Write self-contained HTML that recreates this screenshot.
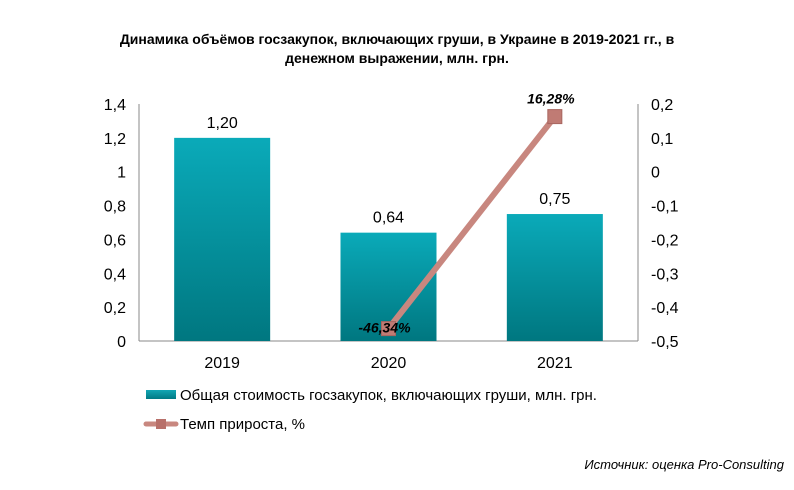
<!DOCTYPE html>
<html><head><meta charset="utf-8"><style>
body{margin:0;background:#fff;}
svg{display:block;font-family:"Liberation Sans",Arial,sans-serif;}
</style></head><body>
<svg id="c" width="794" height="490">
<defs>
<linearGradient id="bg" x1="0" y1="0" x2="0" y2="1"><stop offset="0" stop-color="#0aaab9"/><stop offset="1" stop-color="#007780"/></linearGradient>
<linearGradient id="lg" x1="0" y1="0" x2="0" y2="1"><stop offset="0" stop-color="#12a6b4"/><stop offset="1" stop-color="#007a84"/></linearGradient>
</defs>
<text x="397" y="44" text-anchor="middle" font-size="14" font-weight="bold">Динамика объёмов госзакупок, включающих груши, в Украине в 2019-2021 гг., в</text>
<text x="397" y="63" text-anchor="middle" font-size="14" font-weight="bold">денежном выражении, млн. грн.</text>
<g id="plot"></g>
<rect x="146" y="390" width="30" height="9" fill="url(#lg)"/>
<text x="180" y="400" font-size="15">Общая стоимость госзакупок, включающих груши, млн. грн.</text>
<line x1="146" y1="424" x2="176" y2="424" stroke="#c8877f" stroke-width="5" stroke-linecap="round"/>
<rect x="156" y="419" width="10" height="10" fill="#b8706a"/>
<text x="180" y="429" font-size="15">Темп прироста, %</text>
<text x="784" y="469" text-anchor="end" font-size="13" font-style="italic">Источник: оценка Pro-Consulting</text>
</svg>
<script>
const categories=["2019","2020","2021"];
const barValues=[1.20,0.64,0.75];
const barLabels=["1,20","0,64","0,75"];
const growthValues=[null,-0.4634,0.1628];
const growthLabels=[null,"-46,34%","16,28%"];
const leftTicks=[0,0.2,0.4,0.6,0.8,1,1.2,1.4];
const leftTickLabels=["0","0,2","0,4","0,6","0,8","1","1,2","1,4"];
const rightTicks=[-0.5,-0.4,-0.3,-0.2,-0.1,0,0.1,0.2];
const rightTickLabels=["-0,5","-0,4","-0,3","-0,2","-0,1","0","0,1","0,2"];
const NS="http://www.w3.org/2000/svg";
const g=document.getElementById('plot');
const X0=139,X1=638,Y0=341,Y1=104;
const yL=v=>Y0-(v/1.4)*(Y0-Y1);
const yR=v=>Y0-((v+0.5)/0.7)*(Y0-Y1);
const bw=(X1-X0)/categories.length;
const xC=i=>X0+bw*(i+0.5);
function mk(t,a,txt){const e=document.createElementNS(NS,t);for(const k in a)e.setAttribute(k,a[k]);if(txt!=null)e.textContent=txt;g.appendChild(e);return e;}
let e;
e=mk('line',{x1:X0,y1:Y1,x2:X0,y2:Y0,stroke:'#888'});


e=mk('line',{x1:X1,y1:Y1,x2:X1,y2:Y0,stroke:'#888'});


e=mk('line',{x1:X0,y1:Y0,x2:X1,y2:Y0,stroke:'#888'});


leftTicks.forEach((v,i)=>{e=mk('text',{x:X0-13,y:yL(v)+6,'text-anchor':'end','font-size':16},leftTickLabels[i]);

});
rightTicks.forEach((v,i)=>{e=mk('text',{x:X1+13,y:yR(v)+6,'text-anchor':'start','font-size':16},rightTickLabels[i]);

});
categories.forEach((c,i)=>{
const w=96,top=yL(barValues[i]);
e=mk('rect',{x:xC(i)-w/2,y:top,width:w,height:Y0-top,fill:'url(#bg)'});


e=mk('text',{x:xC(i),y:top-10,'text-anchor':'middle','font-size':16},barLabels[i]);


e=mk('text',{x:xC(i),y:Y0+27,'text-anchor':'middle','font-size':16},c);


});
const pts=[];growthValues.forEach((v,i)=>{if(v!=null)pts.push([xC(i),yR(v),i]);});
e=mk('polyline',{points:pts.map(p=>p[0]+','+p[1]).join(' '),fill:'none',stroke:'#c8877f','stroke-width':6,'stroke-linecap':'round'});


pts.forEach(p=>{
e=mk('rect',{x:p[0]-7,y:p[1]-7,width:14,height:14,fill:'#c07b74',stroke:'#a86660'});


const below=growthValues[p[2]]<-0.3;
e=mk('text',{x:p[0]-4,y:below?p[1]+4:p[1]-13,'text-anchor':'middle','font-size':14,'font-weight':'bold','font-style':'italic'},growthLabels[p[2]]);


});
</script>
</body></html>
